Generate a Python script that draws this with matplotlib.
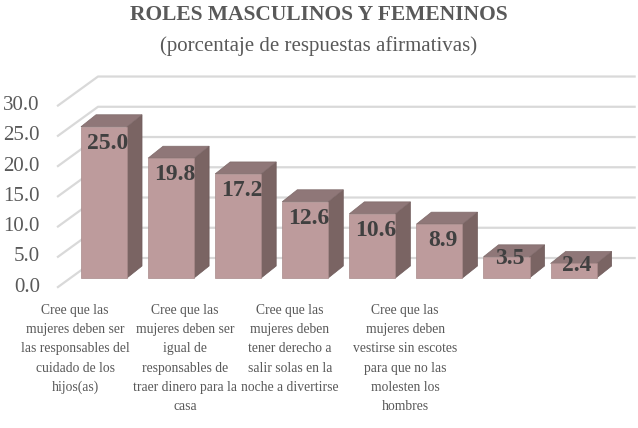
import numpy as np
import matplotlib.pyplot as plt
from matplotlib.patches import Polygon, Rectangle

plt.rcParams['font.family'] = ['Liberation Serif', 'DejaVu Serif']

# data
values = [25.0, 19.8, 17.2, 12.6, 10.6, 8.9, 3.5, 2.4]
yticks = [0, 5, 10, 15, 20, 25, 30]
cat_labels = ['Cree que las\nmujeres deben ser\nlas responsables del\ncuidado de los\nhijos(as)',
              'Cree que las\nmujeres deben ser\nigual de\nresponsables de\ntraer dinero para la\ncasa',
              'Cree que las\nmujeres deben\ntener derecho a\nsalir solas en la\nnoche a divertirse',
              'Cree que las\nmujeres deben\nvestirse sin escotes\npara que no las\nmolesten los\nhombres']
label_pos = [-0.43, 1.21, 2.77, 4.49]

front_col = '#bd9b9c'
side_col = '#7a6463'
top_col = '#8f7778'
grid_col = '#d9d9d9'
txt_col = '#595959'

fig = plt.figure(figsize=(6.38, 4.28), dpi=100)
ax = fig.add_axes([0, 0, 1, 1])
ax.set_xlim(-1.55, 7.96)
ax.set_ylim(-24.8, 45.95)
ax.axis('off')

# walls / gridlines (perspective)
xf, xb, xr = -0.686, -0.089, 7.91
for v in yticks:
    yf, yb = v - 1.5, v + 3.3
    ax.plot([xf, xb, xr], [yf, yb, yb], color=grid_col, lw=1.6, zorder=1)
    ax.text(xf - 0.27, yf, '%.1f' % v, ha='right', va='center',
            fontsize=15, color=txt_col)

# 3d-ish bars
hw = 0.343
dx, dy = 0.224, 1.98
for i, v in enumerate(values):
    ax.add_patch(Polygon([(i + hw, 0), (i + hw + dx, dy), (i + hw + dx, v + dy), (i + hw, v)],
                         closed=True, fc=side_col, ec='#6e5a5a', lw=0.5, zorder=2))
    ax.add_patch(Polygon([(i - hw, v), (i - hw + dx, v + dy), (i + hw + dx, v + dy), (i + hw, v)],
                         closed=True, fc=top_col, ec='#7f6a6a', lw=0.5, zorder=2))
    ax.add_patch(Rectangle((i - hw, 0), 2 * hw, v, fc=front_col, ec='#a88a8a',
                           lw=0.5, zorder=3))
    ly = v - 2.7 if v > 6 else v - 0.3
    ax.text(i + 0.05, ly, '%.1f' % v, ha='center', va='center', fontsize=17,
            fontweight='bold', color='#404040', zorder=4)

for p, lab in zip(label_pos, cat_labels):
    ax.text(p, -4.3, lab, ha='center', va='top', fontsize=9.8, color=txt_col,
            linespacing=1.62)

fig.text(0.5, 1 - 15 / 428, 'ROLES MASCULINOS Y FEMENINOS', ha='center', va='center',
         fontsize=15.5, fontweight='bold', color=txt_col)
fig.text(0.5, 1 - 46 / 428, '(porcentaje de respuestas afirmativas)', ha='center',
         va='center', fontsize=15, color=txt_col)

fig.savefig('out.png', dpi=100)
